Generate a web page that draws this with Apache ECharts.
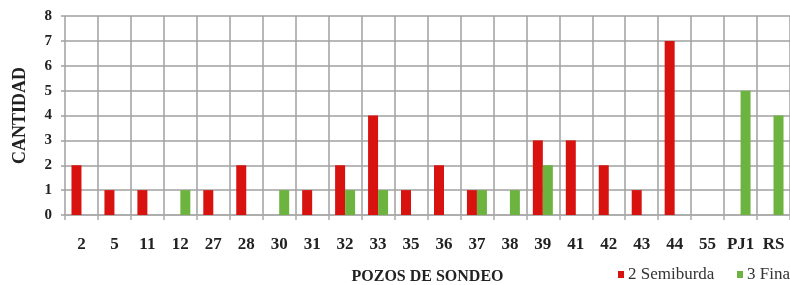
<!DOCTYPE html>
<html><head><meta charset="utf-8">
<script src="https://cdn.jsdelivr.net/npm/echarts@6/dist/echarts.min.js"></script>
<style>html,body{margin:0;padding:0;background:#fff}#c{width:790px;height:285px}</style>
</head><body><div id="c"></div>
<script>
const categories = ['2','5','11','12','27','28','30','31','32','33','35','36','37','38','39','41','42','43','44','55','PJ1','RS'];
const semiburda = [2,1,1,0,1,2,0,1,2,4,1,2,1,0,3,3,2,1,7,0,0,0];
const fina = [0,0,0,1,0,0,1,0,1,1,0,0,1,1,2,0,0,0,0,0,5,4];
const yTicks = [0,1,2,3,4,5,6,7,8];
const seriesNames = ['2 Semiburda','3 Fina'];

const serif = '"Liberation Serif","DejaVu Serif",serif';
const legendText = {fontFamily:serif,fontSize:17,color:'#333',padding:[0,0,0,-1]};
const chart = echarts.init(document.getElementById('c'), null, {renderer:'canvas'});
chart.setOption({
  animation:false,
  backgroundColor:'#fff',
  grid:{left:65,right:0,top:16,bottom:70,containLabel:false,outerBoundsMode:'none'},
  legend:[
    {data:[seriesNames[0]], left:618, top:266, padding:0, icon:'rect', itemWidth:6, itemHeight:7, textStyle:legendText},
    {data:[seriesNames[1]], left:737, top:266, padding:0, icon:'rect', itemWidth:6, itemHeight:7, textStyle:legendText}
  ],
  xAxis:{
    type:'category', data:categories,
    name:'POZOS DE SONDEO', nameLocation:'middle', nameGap:54,
    nameTextStyle:{fontFamily:serif,fontWeight:'bold',fontSize:16,color:'#222'},
    axisLine:{show:true,lineStyle:{color:'#aaa',width:1.5}},
    axisTick:{show:true,length:5,lineStyle:{color:'#aaa',width:1.5}},
    splitLine:{show:true,interval:0,lineStyle:{color:'#a0a0a0',width:1.5}},
    axisLabel:{interval:0,margin:21,fontFamily:serif,fontWeight:'bold',fontSize:17,color:'#222'}
  },
  yAxis:{
    type:'value', min:0, max:8, interval:1,
    name:'CANTIDAD', nameLocation:'middle', nameGap:36,
    nameTextStyle:{fontFamily:serif,fontWeight:'bold',fontSize:18,color:'#222'},
    axisLine:{show:false},
    axisTick:{show:true,length:4,lineStyle:{color:'#a0a0a0',width:1.5}},
    splitLine:{show:true,lineStyle:{color:'#a0a0a0',width:1.5}},
    axisLabel:{margin:13,fontFamily:serif,fontWeight:'bold',fontSize:15,color:'#222',
      formatter:function(v){return yTicks.indexOf(v)>=0?String(v):'';}}
  },
  series:[
    {name:seriesNames[0],type:'bar',data:semiburda,barWidth:10,barGap:'0%',itemStyle:{color:'#D8120E'}},
    {name:seriesNames[1],type:'bar',data:fina,barWidth:10,barGap:'0%',itemStyle:{color:'#6DB33F'}}
  ]
});
</script></body></html>
